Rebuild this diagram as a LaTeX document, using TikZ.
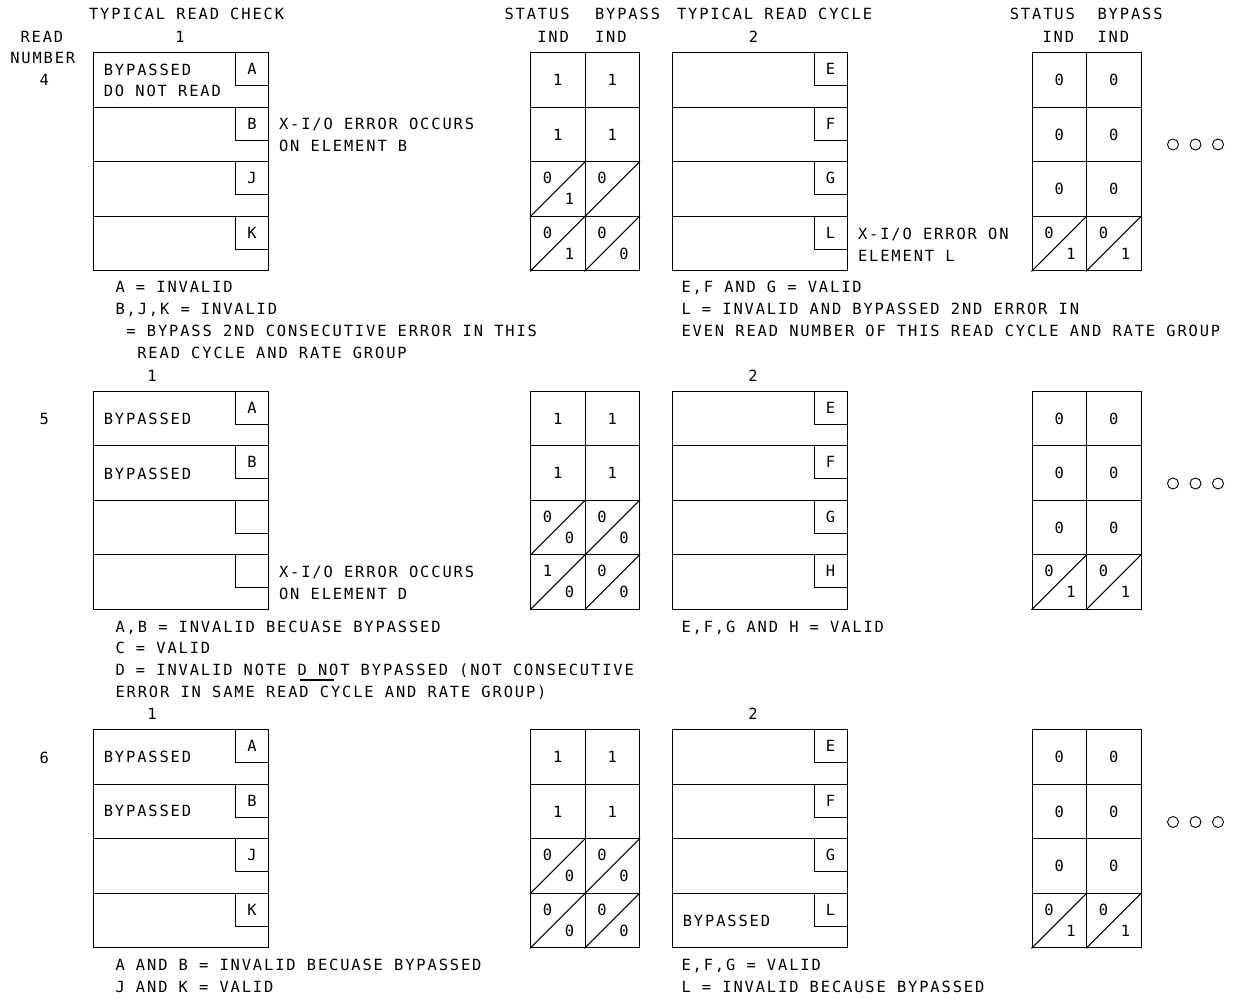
\documentclass[tikz,border=0pt]{standalone}
\usepackage{fontspec}
\usetikzlibrary{positioning}
\newfontfamily\cadfont[LetterSpace=12.2]{DejaVu Sans Mono}
\newcommand{\cadtext}{\cadfont\fontsize{15.4pt}{22pt}\selectfont}
\newcommand{\elembox}[4]{\foreach \l [count=\i from 0] in {#4}{
    \node[band] (#1\i) at (#2,{#3+54.5*\i}) {};
    \node[tagbox] (#1t\i) at (#1\i.north east) {\l};}}
\newcommand{\pcell}[4]{\node[cell] (#1) at (#2,#3) {#4};}
\newcommand{\dcell}[5]{\node[cell] (#1) at (#2,#3) {};
  \draw (#1.south west) -- (#1.north east);
  \node[val] (#1u) at ([shift={(17.5pt,-17pt)}]#1.north west) {#4};
  \node[val] (#1l) at ([shift={(39.5pt,-38pt)}]#1.north west) {#5};}

\begin{document}
\begin{tikzpicture}[x=1pt,y=-1pt,line width=1.1pt,
        band/.style={draw,minimum width=175pt,minimum height=54.5pt,inner sep=0pt,anchor=north west},
        tagbox/.style={draw,minimum size=33pt,inner sep=0pt,anchor=north east,font=\cadtext},
        cell/.style={draw,minimum width=54.5pt,minimum height=54.5pt,inner sep=0pt,anchor=north west,font=\cadtext},
        val/.style={inner sep=0pt,font=\cadtext},
        txt/.style={inner sep=0pt,anchor=base west,font=\cadtext},
        dot/.style={draw,circle,minimum size=11pt,inner sep=0pt,line width=0.9pt}]
        \useasboundingbox (0,0) rectangle (1236,998);
        % headings
        \node[txt] (hdchk) at (88.5,19.6) {TYPICAL READ CHECK};
        \node[txt] (hdcyc) at (676.5,19.6) {TYPICAL READ CYCLE};
        \node[txt] (hdst) at (504,19.6) {STATUS};
        \node[txt] (hdsti) at (536.7,42.3) {IND};
        \node[txt] (hdby) at (594.5,19.6) {BYPASS};
        \node[txt] (hdbyi) at (594.5,42.3) {IND};
        \node[txt] (hdstr) at (1009.3,19.6) {STATUS};
        \node[txt] (hdstri) at (1042,42.3) {IND};
        \node[txt] (hdbyr) at (1097,19.6) {BYPASS};
        \node[txt] (hdbyri) at (1097,42.3) {IND};
        \node[txt] (hdrd) at (20,42.3) {READ};
        \node[txt] (hdnum) at (9.7,63.6) {NUMBER};

        % read number 4
        \node[txt] (rd4) at (39,85.6) {4};
        \node[val,anchor=base] (chk4n) at (180,42.3) {1};
        \node[val,anchor=base] (cyc4n) at (753.5,42.3) {2};
        \elembox{chk4}{93}{52.3}{A,B,J,K}
        \elembox{cyc4}{671.5}{52.3}{E,F,G,L}
        \node[txt] (chk4a) at (103.3,75.6) {BYPASSED};
        \node[txt] (chk4b) at (103.3,96.3) {DO NOT READ};
        \node[txt] (err4a) at (278.5,129.1) {X-I/O ERROR OCCURS};
        \node[txt] (err4b) at (278.5,151.1) {ON ELEMENT B};
        \node[txt] (err4c) at (857.5,239.1) {X-I/O ERROR ON};
        \node[txt] (err4d) at (857.5,261.1) {ELEMENT L};
        \pcell{st40}{530}{52.3}{1} \pcell{by40}{584.5}{52.3}{1}
        \pcell{st41}{530}{106.8}{1} \pcell{by41}{584.5}{106.8}{1}
        \dcell{st42}{530}{161.3}{0}{1} \dcell{by42}{584.5}{161.3}{0}{}
        \dcell{st43}{530}{215.8}{0}{1} \dcell{by43}{584.5}{215.8}{0}{0}
        \pcell{sr40}{1031.5}{52.3}{0} \pcell{br40}{1086}{52.3}{0}
        \pcell{sr41}{1031.5}{106.8}{0} \pcell{br41}{1086}{106.8}{0}
        \pcell{sr42}{1031.5}{161.3}{0} \pcell{br42}{1086}{161.3}{0}
        \dcell{sr43}{1031.5}{215.8}{0}{1} \dcell{br43}{1086}{215.8}{0}{1}
        \foreach \k in {0,1,2} \node[dot] (dot4\k) at ({1173+22.5*\k},144.5) {};
        \node[txt] (n4a) at (115,292.6) {A = INVALID};
        \node[txt] (n4b) at (115,314.6) {B,J,K = INVALID};
        \node[txt] (n4c) at (125.9,336.6) {= BYPASS 2ND CONSECUTIVE ERROR IN THIS};
        \node[txt] (n4d) at (136.8,358.6) {READ CYCLE AND RATE GROUP};
        \node[txt] (m4a) at (681,292.6) {E,F AND G = VALID};
        \node[txt] (m4b) at (681,314.6) {L = INVALID AND BYPASSED 2ND ERROR IN};
        \node[txt] (m4c) at (681,336.6) {EVEN READ NUMBER OF THIS READ CYCLE AND RATE GROUP};

        % read number 5
        \node[txt] (rd5) at (39,424.6) {5};
        \node[val,anchor=base] (chk5n) at (152,381.3) {1};
        \node[val,anchor=base] (cyc5n) at (753,381.3) {2};
        \elembox{chk5}{93}{390.8}{A,B,{},{}}
        \elembox{cyc5}{671.5}{390.8}{E,F,G,H}
        \node[txt] (chk5a) at (103.3,424.6) {BYPASSED};
        \node[txt] (chk5b) at (103.3,479.1) {BYPASSED};
        \node[txt] (err5a) at (278.5,577.1) {X-I/O ERROR OCCURS};
        \node[txt] (err5b) at (278.5,599) {ON ELEMENT D};
        \pcell{st50}{530}{390.8}{1} \pcell{by50}{584.5}{390.8}{1}
        \pcell{st51}{530}{445.3}{1} \pcell{by51}{584.5}{445.3}{1}
        \dcell{st52}{530}{499.8}{0}{0} \dcell{by52}{584.5}{499.8}{0}{0}
        \dcell{st53}{530}{554.3}{1}{0} \dcell{by53}{584.5}{554.3}{0}{0}
        \pcell{sr50}{1031.5}{390.8}{0} \pcell{br50}{1086}{390.8}{0}
        \pcell{sr51}{1031.5}{445.3}{0} \pcell{br51}{1086}{445.3}{0}
        \pcell{sr52}{1031.5}{499.8}{0} \pcell{br52}{1086}{499.8}{0}
        \dcell{sr53}{1031.5}{554.3}{0}{1} \dcell{br53}{1086}{554.3}{0}{1}
        \foreach \k in {0,1,2} \node[dot] (dot5\k) at ({1173+22.5*\k},483.5) {};
        \node[txt] (n5a) at (115,632.1) {A,B = INVALID BECUASE BYPASSED};
        \node[txt] (n5b) at (115,653.6) {C = VALID};
        \node[txt] (n5c) at (115,675.6) {D = INVALID NOTE D NOT BYPASSED (NOT CONSECUTIVE};
        \node[txt] (n5d) at (115,697.3) {ERROR IN SAME READ CYCLE AND RATE GROUP)};
        \draw ([shift={(185pt,-4.4pt)}]n5c.base west) -- ++(33.5,0);
        \node[txt] (m5a) at (681,632.1) {E,F,G AND H = VALID};

        % read number 6
        \node[txt] (rd6) at (39,763) {6};
        \node[val,anchor=base] (chk6n) at (152,719.7) {1};
        \node[val,anchor=base] (cyc6n) at (753,719.7) {2};
        \elembox{chk6}{93}{729.3}{A,B,J,K}
        \elembox{cyc6}{671.5}{729.3}{E,F,G,L}
        \node[txt] (chk6a) at (103.3,762.1) {BYPASSED};
        \node[txt] (chk6b) at (103.3,816.6) {BYPASSED};
        \node[txt] (cyc6a) at (682.3,926.2) {BYPASSED};
        \pcell{st60}{530}{729.3}{1} \pcell{by60}{584.5}{729.3}{1}
        \pcell{st61}{530}{783.8}{1} \pcell{by61}{584.5}{783.8}{1}
        \dcell{st62}{530}{838.3}{0}{0} \dcell{by62}{584.5}{838.3}{0}{0}
        \dcell{st63}{530}{892.8}{0}{0} \dcell{by63}{584.5}{892.8}{0}{0}
        \pcell{sr60}{1031.5}{729.3}{0} \pcell{br60}{1086}{729.3}{0}
        \pcell{sr61}{1031.5}{783.8}{0} \pcell{br61}{1086}{783.8}{0}
        \pcell{sr62}{1031.5}{838.3}{0} \pcell{br62}{1086}{838.3}{0}
        \dcell{sr63}{1031.5}{892.8}{0}{1} \dcell{br63}{1086}{892.8}{0}{1}
        \foreach \k in {0,1,2} \node[dot] (dot6\k) at ({1173+22.5*\k},822) {};
        \node[txt] (n6a) at (115,970.6) {A AND B = INVALID BECUASE BYPASSED};
        \node[txt] (n6b) at (115,992.1) {J AND K = VALID};
        \node[txt] (m6a) at (681,970.6) {E,F,G = VALID};
        \node[txt] (m6b) at (681,992.1) {L = INVALID BECAUSE BYPASSED};
      \end{tikzpicture}
\end{document}
